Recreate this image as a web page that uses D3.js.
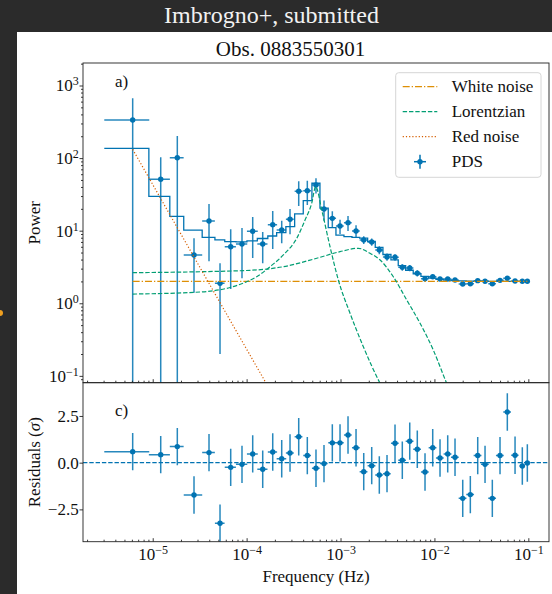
<!DOCTYPE html>
<html>
<head>
<meta charset="utf-8">
<script src="https://cdn.jsdelivr.net/npm/d3@7"></script>
<style>
body { margin: 0; background: #2b2b2b; }
svg { display: block; }
text { font-family: "Liberation Serif", "Times New Roman", serif; }
</style>
</head>
<body>
<svg id="chart" width="552" height="594"></svg>
<script>
// PDS bins (Hz) and half widths
var freq = [6.12e-6, 1.217e-5, 1.828e-5, 2.753e-5, 3.977e-5, 5.21e-5, 6.77e-5, 8.93e-5, 1.161e-4, 1.484e-4,
            1.897e-4, 2.365e-4, 2.899e-4, 3.588e-4, 4.43e-4, 5.48e-4, 6.67e-4, 8.18e-4, 9.88e-4, 1.202e-3,
            1.463e-3, 1.767e-3, 2.149e-3, 2.589e-3, 3.127e-3, 3.805e-3, 4.55e-3, 5.46e-3, 6.57e-3, 7.94e-3,
            9.59e-3, 1.147e-2, 1.385e-2, 1.657e-2, 2.002e-2, 2.412e-2, 2.891e-2, 3.459e-2, 4.136e-2, 4.995e-2,
            5.975e-2, 7.22e-2, 8.63e-2, 9.76e-2];
var freqErr = [3.07e-6, 3.07e-6, 3.07e-6, 6.13e-6, 6.13e-6, 6.13e-6, 9.2e-6, 1.23e-5, 1.53e-5, 1.84e-5,
               2.15e-5, 2.76e-5, 2.8e-5, 3.4e-5, 4.2e-5, 5.2e-5, 6.3e-5, 7.8e-5, 9.4e-5, 1.14e-4,
               1.39e-4, 1.68e-4, 2.04e-4, 2.46e-4, 2.97e-4, 3.61e-4, 4.32e-4, 5.19e-4, 6.24e-4, 7.54e-4,
               9.11e-4, 1.09e-3, 1.32e-3, 1.57e-3, 1.9e-3, 2.29e-3, 2.75e-3, 3.29e-3, 3.93e-3, 4.75e-3,
               5.68e-3, 6.5e-3, 6.0e-3, 2.4e-3];
var power = [335, 51, 101, 4.63, 13.6, 1.88, 6.02, 6.56, 9.81, 6.56,
             12.1, 10.2, 14.4, 34.9, 35.6, 42.6, 19.9, 14.8, 11.6, 12.9,
             9.9, 7.45, 6.99, 5.42, 4.34, 4.30, 3.13, 3.06, 2.59, 2.18,
             2.32, 2.16, 2.16, 2.09, 1.84, 1.86, 2.05, 2.01, 1.86, 2.07,
             2.21, 2.03, 2.01, 2.01];
var powerErr = [335, 51.6, 101, 3.23, 9.8, 1.68, 4.45, 4.35, 5.6, 3.0,
                6.5, 3.5, 5.5, 13, 13, 10, 6.2, 3.7, 2.6, 3.0,
                2.0, 0.9, 0.8, 0.7, 0.5, 0.45, 0.32, 0.3, 0.25, 0.2,
                0.15, 0.13, 0.12, 0.11, 0.1, 0.1, 0.1, 0.1, 0.1, 0.1,
                0.1, 0.1, 0.1, 0.1];
var model = [136, 29.6, 15.7, 10.2, 8.1, 7.45, 7.05, 7.0, 7.25, 7.8,
             8.45, 9.4, 11.4, 17, 26, 45, 20.4, 11, 8.7, 8.3,
             8.1, 7.9, 7.1, 5.9, 4.7, 3.95, 3.3, 2.85, 2.55, 2.35,
             2.22, 2.13, 2.08, 2.05, 2.03, 2.02, 2.01, 2.01, 2.0, 2.0,
             2.0, 2.0, 2.0, 2.0];
var resid = [0.59, 0.43, 0.86, -1.73, 0.54, -3.24, -0.25, -0.09, 0.47, -0.35,
             0.57, 0.21, 0.52, 1.39, 0.38, -0.30, -0.05, 1.06, 1.06, 1.48,
             0.80, -0.48, -0.16, -0.66, -0.59, 1.04, 0.13, 1.15, 0.72, -0.50,
             0.80, 0.25, 0.47, 0.29, -1.91, -1.71, 0.38, -0.09, -1.91, 0.38,
             2.71, 0.40, -0.18, -0.02];
var residErr = 1;

// model components
var whiteF = [6.12e-6, 9.76e-2];
var whiteP = [2.0, 2.0];
var lorNarrowF = [6.12e-6, 3.19e-5, 6.65e-5, 1.0e-4, 1.28e-4, 1.775e-4, 2.46e-4, 3.42e-4, 4.19e-4, 4.93e-4,
                  5.44e-4, 6.31e-4, 7.73e-4, 9.48e-4, 1.263e-3, 1.75e-3, 2.64e-3, 3.37e-3];
var lorNarrowP = [1.34, 1.43, 1.65, 1.98, 2.32, 3.19, 4.63, 7.86, 14.0, 23.8,
                  40.4, 19.3, 6.02, 2.09, 0.728, 0.252, 0.079, 0.0457];
var lorBroadF = [6.12e-6, 3.19e-5, 1.28e-4, 2.46e-4, 5.58e-4, 9.88e-4, 1.547e-3, 2.06e-3, 2.64e-3, 3.65e-3,
                 5.07e-3, 7.03e-3, 9.73e-3, 1.35e-2, 1.70e-2];
var lorBroadP = [2.64, 2.72, 2.88, 3.19, 4.17, 5.14, 5.72, 4.88, 3.95, 2.32,
                 1.11, 0.531, 0.227, 0.079, 0.040];
var redF = [6.12e-6, 1.6e-4, 2.27e-4];
var redP = [132, 0.0806, 0.0366];

var xTicks = [1e-5, 1e-4, 1e-3, 1e-2, 1e-1];
var yTicks = [0.1, 1, 10, 100, 1000];
var rTicks = [-2.5, 0, 2.5];
var legendNames = ["White noise", "Lorentzian", "Red noise", "PDS"];

var blue = "#0173b2", orange = "#de8f05", green = "#029e73", red = "#d55e00";

var dims = { width: 552, height: 594, left: 83, right: 549, top: 63, mid: 382.7, bottom: 541.7 };

var svg = d3.select("#chart");

// figure backgrounds
svg.append("rect").attr("width", dims.width).attr("height", dims.height).attr("fill", "#2b2b2b");
svg.append("rect").attr("x", 17).attr("y", 32).attr("width", dims.width - 17).attr("height", dims.height - 32).attr("fill", "#fff");
svg.append("circle").attr("cx", 0).attr("cy", 313).attr("r", 3).attr("fill", "#f0a020");

svg.append("text").attr("x", 271.5).attr("y", 22.7).attr("text-anchor", "middle")
   .style("font-size", "24px").attr("fill", "#f2f2f2").text("Imbrogno+, submitted");
svg.append("text").attr("x", 290.5).attr("y", 56).attr("text-anchor", "middle")
   .style("font-size", "21px").attr("fill", "#111").text("Obs. 0883550301");

var xScale = d3.scaleLog().domain([1.81e-6, 0.166]).range([dims.left, dims.right]);
var yScale = d3.scaleLog().domain([0.0805, 2042]).range([dims.mid, dims.top]);
var rScale = d3.scaleLinear().domain([-4.23, 4.28]).range([dims.bottom, dims.mid]);

var defs = svg.append("defs");
defs.append("clipPath").attr("id", "clipTop").append("rect")
    .attr("x", dims.left).attr("y", dims.top).attr("width", dims.right - dims.left).attr("height", dims.mid - dims.top);
defs.append("clipPath").attr("id", "clipBot").append("rect")
    .attr("x", dims.left).attr("y", dims.mid).attr("width", dims.right - dims.left).attr("height", dims.bottom - dims.mid);

var idx = d3.range(freq.length);

// ---- top panel ----
var topG = svg.append("g").attr("clip-path", "url(#clipTop)");

function lowY(i) {
    var lo = power[i] - powerErr[i];
    return lo > 0 ? yScale(lo) : dims.mid + 20;
}

var pds = topG.append("g");
pds.selectAll(".xe").data(idx).enter().append("line")
   .attr("x1", function(i){ return xScale(freq[i] - freqErr[i]) })
   .attr("x2", function(i){ return xScale(freq[i] + freqErr[i]) })
   .attr("y1", function(i){ return yScale(power[i]) })
   .attr("y2", function(i){ return yScale(power[i]) })
   .attr("stroke", blue).attr("stroke-width", 1.5).attr("stroke-opacity", 0.85);
pds.selectAll(".ye").data(idx).enter().append("line")
   .attr("x1", function(i){ return xScale(freq[i]) })
   .attr("x2", function(i){ return xScale(freq[i]) })
   .attr("y1", function(i){ return yScale(power[i] + powerErr[i]) })
   .attr("y2", function(i){ return lowY(i) })
   .attr("stroke", blue).attr("stroke-width", 1.5).attr("stroke-opacity", 0.85);
pds.selectAll("circle").data(idx).enter().append("circle")
   .attr("cx", function(i){ return xScale(freq[i]) })
   .attr("cy", function(i){ return yScale(power[i]) })
   .attr("r", 2.7).attr("fill", blue);

// model as a step line over the bins
var stepPts = idx.map(function(i){ return [freq[i] - freqErr[i], model[i]] });
stepPts.push([freq[freq.length - 1] + freqErr[freq.length - 1], model[model.length - 1]]);
topG.append("path")
   .attr("d", d3.line().curve(d3.curveStepAfter)
        .x(function(d){ return xScale(d[0]) })
        .y(function(d){ return yScale(d[1]) })(stepPts))
   .attr("fill", "none").attr("stroke", blue).attr("stroke-width", 1.3);

var compLine = d3.line().curve(d3.curveMonotoneX)
    .x(function(d){ return xScale(d[0]) })
    .y(function(d){ return yScale(d[1]) });
function pairs(f, p) { return f.map(function(v, i){ return [v, p[i]] }) }

topG.append("path").attr("d", compLine(pairs(whiteF, whiteP)))
   .attr("fill", "none").attr("stroke", orange).attr("stroke-width", 1.2).attr("stroke-dasharray", "7,2,1.3,2");
topG.append("path").attr("d", compLine(pairs(lorNarrowF, lorNarrowP)))
   .attr("fill", "none").attr("stroke", green).attr("stroke-width", 1.2).attr("stroke-dasharray", "4.4,1.9");
topG.append("path").attr("d", compLine(pairs(lorBroadF, lorBroadP)))
   .attr("fill", "none").attr("stroke", green).attr("stroke-width", 1.2).attr("stroke-dasharray", "4.4,1.9");
topG.append("path").attr("d", compLine(pairs(redF, redP)))
   .attr("fill", "none").attr("stroke", red).attr("stroke-width", 1.2).attr("stroke-dasharray", "1.2,2");

// ---- residual panel ----
var botG = svg.append("g").attr("clip-path", "url(#clipBot)");
botG.append("line").attr("x1", dims.left).attr("x2", dims.right)
   .attr("y1", rScale(0)).attr("y2", rScale(0))
   .attr("stroke", blue).attr("stroke-width", 1.2).attr("stroke-dasharray", "4.4,1.9");
botG.selectAll(".xe").data(idx).enter().append("line")
   .attr("x1", function(i){ return xScale(freq[i] - freqErr[i]) })
   .attr("x2", function(i){ return xScale(freq[i] + freqErr[i]) })
   .attr("y1", function(i){ return rScale(resid[i]) })
   .attr("y2", function(i){ return rScale(resid[i]) })
   .attr("stroke", blue).attr("stroke-width", 1.5).attr("stroke-opacity", 0.85);
botG.selectAll(".ye").data(idx).enter().append("line")
   .attr("x1", function(i){ return xScale(freq[i]) })
   .attr("x2", function(i){ return xScale(freq[i]) })
   .attr("y1", function(i){ return rScale(resid[i] + residErr) })
   .attr("y2", function(i){ return rScale(resid[i] - residErr) })
   .attr("stroke", blue).attr("stroke-width", 1.5).attr("stroke-opacity", 0.85);
botG.selectAll("circle").data(idx).enter().append("circle")
   .attr("cx", function(i){ return xScale(freq[i]) })
   .attr("cy", function(i){ return rScale(resid[i]) })
   .attr("r", 2.7).attr("fill", blue);

// ---- axes ----
function supLabel(sel) {
    sel.selectAll(".tick text").each(function(d){
        var t = d3.select(this);
        var e = Math.round(Math.log10(d));
        t.text(null);
        t.append("tspan").text("10");
        t.append("tspan").attr("dy", "-0.5em").style("font-size", "12px").text(e < 0 ? "\u2212" + (-e) : e);
    });
}
function styleAxis(g) {
    g.select(".domain").remove();
    g.selectAll(".tick line").attr("stroke", "#222").attr("stroke-width", 0.9);
    g.selectAll(".tick text").style("font-size", "17px").attr("fill", "#111")
     .style("font-family", "'Liberation Serif', serif");
}
function minorTicks(scale) {
    var d = scale.domain(), out = [];
    for (var e = Math.floor(Math.log10(d[0])); e <= Math.ceil(Math.log10(d[1])); e++) {
        for (var m = 2; m <= 9; m++) {
            var v = m * Math.pow(10, e);
            if (v >= d[0] && v <= d[1]) out.push(v);
        }
    }
    return out;
}

// y axis, top panel
var yAx = svg.append("g").attr("transform", "translate(" + dims.left + ",0)")
    .call(d3.axisLeft(yScale).tickValues(yTicks).tickSize(3.5).tickPadding(0.8));
styleAxis(yAx); supLabel(yAx);
var yMin = svg.append("g").attr("transform", "translate(" + dims.left + ",0)")
    .call(d3.axisLeft(yScale).tickValues(minorTicks(yScale)).tickSize(2).tickFormat(""));
styleAxis(yMin);

// y axis, residuals
var rAx = svg.append("g").attr("transform", "translate(" + dims.left + ",0)")
    .call(d3.axisLeft(rScale).tickValues(rTicks).tickSize(3.5).tickPadding(0.8)
          .tickFormat(function(d){ return d < 0 ? "\u2212" + d3.format(".1f")(-d) : d3.format(".1f")(d) }));
styleAxis(rAx);

// x axes (ticks pointing inward)
[dims.mid, dims.bottom].forEach(function(yy, k){
    var a = svg.append("g").attr("transform", "translate(0," + yy + ")")
        .call(d3.axisBottom(xScale).tickValues(xTicks).tickSize(-3.5).tickPadding(6));
    styleAxis(a);
    if (k === 0) a.selectAll(".tick text").remove(); else supLabel(a);
    var m = svg.append("g").attr("transform", "translate(0," + yy + ")")
        .call(d3.axisBottom(xScale).tickValues(minorTicks(xScale)).tickSize(-2).tickFormat(""));
    styleAxis(m);
});

// frames
svg.append("rect").attr("x", dims.left).attr("y", dims.top)
   .attr("width", dims.right - dims.left).attr("height", dims.mid - dims.top)
   .attr("fill", "none").attr("stroke", "#222").attr("stroke-width", 0.9);
svg.append("rect").attr("x", dims.left).attr("y", dims.mid)
   .attr("width", dims.right - dims.left).attr("height", dims.bottom - dims.mid)
   .attr("fill", "none").attr("stroke", "#222").attr("stroke-width", 0.9);

// panel labels
svg.append("text").attr("x", 115).attr("y", 87).style("font-size", "17px").attr("fill", "#111").text("a)");
svg.append("text").attr("x", 115).attr("y", 416).style("font-size", "17px").attr("fill", "#111").text("c)");

// axis titles
svg.append("text").attr("transform", "translate(40," + ((dims.top + dims.mid) / 2) + ") rotate(-90)")
   .attr("text-anchor", "middle").style("font-size", "17px").attr("fill", "#111").text("Power");
var rl = svg.append("text").attr("transform", "translate(40," + ((dims.mid + dims.bottom) / 2) + ") rotate(-90)")
   .attr("text-anchor", "middle").style("font-size", "17px").attr("fill", "#111");
rl.append("tspan").text("Residuals (");
rl.append("tspan").style("font-style", "italic").text("\u03c3");
rl.append("tspan").text(")");
svg.append("text").attr("x", (dims.left + dims.right) / 2).attr("y", 582)
   .attr("text-anchor", "middle").style("font-size", "17px").attr("fill", "#111").text("Frequency (Hz)");

// legend
var lg = svg.append("g");
lg.append("rect").attr("x", 395.7).attr("y", 72.7).attr("width", 145.3).attr("height", 104.6).attr("rx", 3)
  .attr("fill", "#fff").attr("fill-opacity", 0.8).attr("stroke", "#d6d6d6").attr("stroke-width", 1);
var rows = [86.7, 111.7, 136.7, 161.7];
var styles = [[orange, "7,2,1.3,2"], [green, "4.4,1.9"], [red, "1.2,2"]];
styles.forEach(function(s, i){
    lg.append("line").attr("x1", 402.7).attr("x2", 437.3).attr("y1", rows[i]).attr("y2", rows[i])
      .attr("stroke", s[0]).attr("stroke-width", 1.2).attr("stroke-dasharray", s[1]);
});
lg.append("line").attr("x1", 414).attr("x2", 426).attr("y1", rows[3]).attr("y2", rows[3]).attr("stroke", blue).attr("stroke-width", 1.5);
lg.append("line").attr("x1", 420).attr("x2", 420).attr("y1", rows[3] - 7).attr("y2", rows[3] + 7).attr("stroke", blue).attr("stroke-width", 1.5);
lg.append("circle").attr("cx", 420).attr("cy", rows[3]).attr("r", 2.7).attr("fill", blue);
legendNames.forEach(function(n, i){
    lg.append("text").attr("x", 451.7).attr("y", rows[i] + 5.5).style("font-size", "17px").attr("fill", "#111").text(n);
});
</script>
</body>
</html>
